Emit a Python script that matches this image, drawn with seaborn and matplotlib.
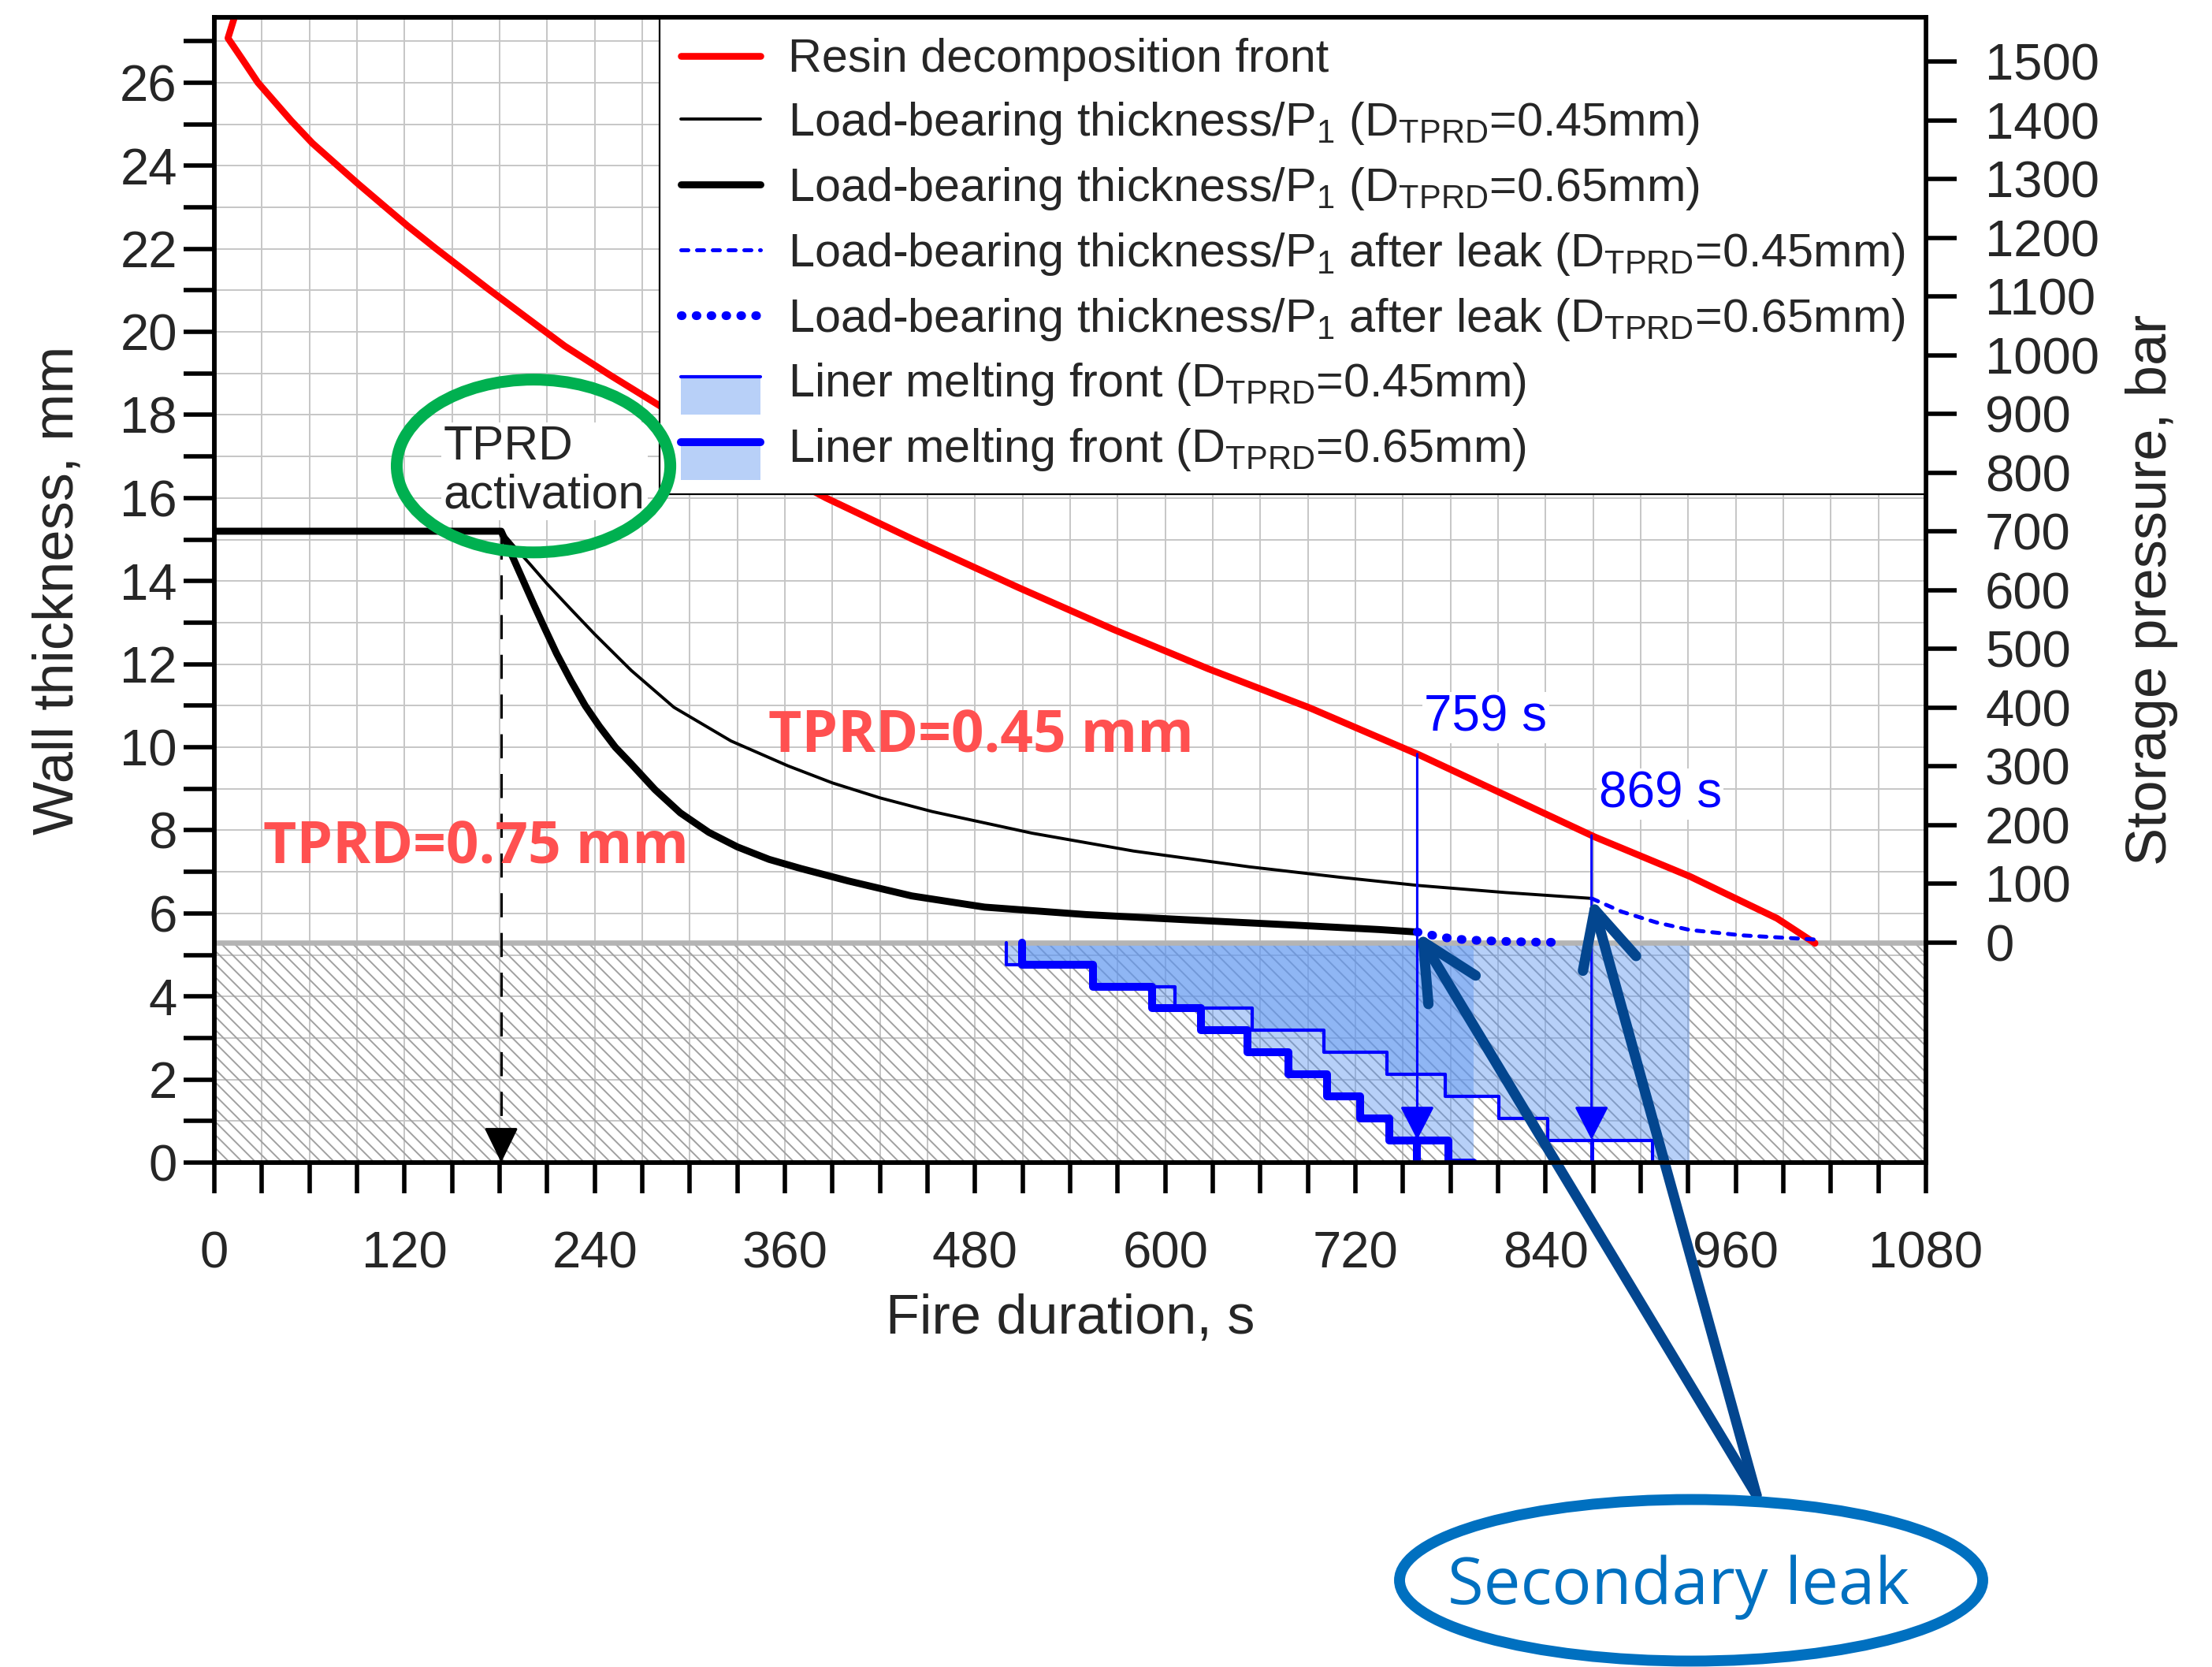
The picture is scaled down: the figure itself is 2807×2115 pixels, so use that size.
import numpy as np
import matplotlib
matplotlib.use("Agg")
import matplotlib.pyplot as plt
import seaborn as sns
from matplotlib.patches import Ellipse, Rectangle
from matplotlib.lines import Line2D
from matplotlib.legend_handler import HandlerBase
from matplotlib.ticker import MultipleLocator

# values (time in s, thickness in mm)
resin_t = [13.3, 8.6, 17.5, 27.5, 48.5, 61.9, 90.8, 121.9, 139.6, 172.9, 195, 221, 250, 284,
           330, 386, 440, 507, 567, 627, 691, 760, 871, 931, 986, 1010]
resin_y = [27.65, 27.07, 26.57, 26.0, 25.08, 24.54, 23.56, 22.55, 22.01, 21.03, 20.4, 19.66, 18.95,
           18.15, 17.15, 16.0, 15.02, 13.85, 12.84, 11.89, 10.95, 9.82, 7.84, 6.89, 5.88, 5.28]

lb045_t = [0, 181, 190, 200, 210, 225, 240, 263, 290, 326, 362, 390, 420, 453, 516, 580, 653,
           710, 760, 815, 869]
lb045_y = [15.2, 15.2, 14.8, 14.37, 13.93, 13.32, 12.72, 11.85, 10.96, 10.15, 9.55, 9.14, 8.78,
           8.45, 7.93, 7.5, 7.12, 6.87, 6.67, 6.5, 6.36]

lb065_t = [0, 181, 188, 195, 202, 208, 216, 225, 234, 243, 253, 263, 278, 294, 312, 330, 350,
           370, 400, 440, 486, 550, 611, 680, 735, 759]
lb065_y = [15.2, 15.2, 14.6, 14.0, 13.4, 12.9, 12.25, 11.6, 11.0, 10.5, 10.0, 9.6, 8.98, 8.42,
           7.95, 7.6, 7.3, 7.08, 6.78, 6.42, 6.15, 5.97, 5.85, 5.72, 5.61, 5.55]

leak045_t = [869, 888, 910, 931, 964, 1010]
leak045_y = [6.36, 6.04, 5.78, 5.6, 5.47, 5.37]

leak065_t = [759, 775, 790, 810, 830, 852]
leak065_y = [5.55, 5.42, 5.36, 5.33, 5.31, 5.3]

# liner melting front, step curves
melt045_t = [499.7, 499.7, 554.6, 606.0, 654.7, 700.3, 740.1, 776.6, 810.5, 841.2, 907.5, 931.0]
melt045_y = [5.3, 4.77, 4.24, 3.71, 3.18, 2.65, 2.12, 1.59, 1.06, 0.53, 0.0, 0.0]
melt065_t = [509.6, 509.6, 554.4, 591.5, 622.6, 651.8, 677.6, 702.0, 723.0, 741.3, 778.6, 794.4]
melt065_y = [5.3, 4.77, 4.24, 3.71, 3.18, 2.65, 2.12, 1.59, 1.06, 0.53, 0.0, 0.0]

liner_top = 5.3          # liner thickness, mm (0 bar on the right axis)
bar_per_mm = 1500 / 21.2
tprd_t = 181
leak_times = [759, 869]
leak_labels = ["759 s", "869 s"]

sns.set_theme(style="white")
plt.rcParams["font.family"] = ["Liberation Sans", "DejaVu Sans"]
plt.rcParams["mathtext.fontset"] = "custom"
plt.rcParams["mathtext.rm"] = "Liberation Sans"
plt.rcParams["mathtext.it"] = "Liberation Sans:italic"
plt.rcParams["mathtext.default"] = "regular"
plt.rcParams["hatch.linewidth"] = 0.7

fill_col = (0.374, 0.59, 0.94)
fill_alpha = 0.447
ytop = 27.577

fig = plt.figure(figsize=(2807 / 200, 2115 / 200), dpi=200)
ax = fig.add_axes([272 / 2807, 1 - 1475 / 2115, (2444 - 272) / 2807, (1475 - 21.7) / 2115])
ax.set_xlim(0, 1080)
ax.set_ylim(0, ytop)

# grid + hatched liner band
ax.set_axisbelow(True)
ax.grid(True, which="both", color="#c6c6c6", lw=0.7)
ax.fill_between([0, 1080], 0, liner_top, facecolor="none", edgecolor="#a0a0a0",
                hatch="\\\\\\\\", linewidth=0, zorder=0.8)
ax.axhline(liner_top, color="#b4b4b4", lw=2.4, zorder=1.5)

# liner melting fronts
ax.fill_between(melt045_t, melt045_y, liner_top, step="post", color=fill_col,
                alpha=fill_alpha, lw=0, zorder=1)
ax.fill_between(melt065_t, melt065_y, liner_top, step="post", color=fill_col,
                alpha=fill_alpha, lw=0, zorder=1)
sns.lineplot(x=melt045_t, y=melt045_y, ax=ax, sort=False, estimator=None, color="blue",
             lw=1.5, drawstyle="steps-post", legend=False, zorder=2.5)
sns.lineplot(x=melt065_t, y=melt065_y, ax=ax, sort=False, estimator=None, color="blue",
             lw=3.6, drawstyle="steps-post", legend=False, zorder=2.5)

# main curves
sns.lineplot(x=resin_t, y=resin_y, ax=ax, sort=False, estimator=None, color="red",
             lw=3.1, legend=False, zorder=3, solid_capstyle="round")
sns.lineplot(x=lb045_t, y=lb045_y, ax=ax, sort=False, estimator=None, color="black",
             lw=1.4, legend=False, zorder=3)
sns.lineplot(x=lb065_t, y=lb065_y, ax=ax, sort=False, estimator=None, color="black",
             lw=3.2, legend=False, zorder=3)
ax.plot(leak045_t, leak045_y, color="blue", lw=1.8, ls=(0, (1.8, 2.2)),
        dash_capstyle="round", zorder=3)
ax.plot(leak065_t, leak065_y, color="blue", lw=4, ls=(0, (0.1, 1.6)),
        dash_capstyle="round", zorder=3)

# TPRD activation marker
ax.plot([tprd_t, tprd_t], [15.1, 0.8], color="black", lw=1.1, ls=(0, (10, 6.5)), zorder=3)
ax.annotate("", xy=(tprd_t, 0), xytext=(tprd_t, 0.8),
            arrowprops=dict(arrowstyle="-|>,head_length=1.4,head_width=0.68", mutation_scale=10,
                            color="black", lw=1.1, shrinkA=0, shrinkB=0), zorder=3)

# secondary leak time markers
tail_t, tail_y = resin_t[2:], resin_y[2:]
for t, lab, seg_lw, dy in zip(leak_times, leak_labels, [3.6, 1.8], [0.88, 1.0]):
    top = np.interp(t, tail_t, tail_y)
    ax.annotate("", xy=(t, 0.55), xytext=(t, top),
                arrowprops=dict(arrowstyle="-|>,head_length=1.33,head_width=0.68",
                                mutation_scale=10, color="blue", lw=1.1, shrinkA=0, shrinkB=0),
                zorder=4)
    ax.plot([t, t], [0, 0.55], color="blue", lw=seg_lw, zorder=4)
    ax.text(t + 4.5, top + dy, lab, color="blue", fontsize=23, ha="left", va="center",
            bbox=dict(facecolor="white", edgecolor="none", pad=1), zorder=4)

# text annotations
ax.text(144.5, 16.64, "TPRD\nactivation", fontsize=21.8, ha="left", va="center",
        linespacing=1.1, bbox=dict(facecolor="white", edgecolor="none", pad=1), zorder=4)
ax.add_patch(Ellipse((201.4, 16.77), 172.6, 4.16, fill=False, edgecolor="#00b050", lw=5.4,
                     zorder=10))
for x0, y0, s in [(349.6, 10.23, "TPRD=0.45 mm"), (30.8, 7.57, "TPRD=0.75 mm")]:
    ax.text(x0, y0, s, color="#ff5050", fontsize=26.3, fontweight="bold", family="Open Sans",
            ha="left", va="center", zorder=4)

# "Secondary leak" callout
tail = (2229 / 2807, 1 - 1897 / 2115)
for tx, ty in [(leak065_t[0], leak065_y[0]), (leak045_t[0], leak045_y[0])]:
    ax.annotate("", xy=(tx, ty), xycoords="data", xytext=tail, textcoords="figure fraction",
                arrowprops=dict(arrowstyle="->,head_length=0.85,head_width=0.42", mutation_scale=30,
                                color="#03468f", lw=4.7, shrinkA=0, shrinkB=0),
                annotation_clip=False, zorder=12)
fig.add_artist(Ellipse((2146 / 2807, 1 - 2005 / 2115), 740 / 2807, 205 / 2115,
                       transform=fig.transFigure, fill=False, edgecolor="#0070c0", lw=5))
fig.text(2130 / 2807, 1 - 2014 / 2115, "Secondary leak", ha="center", va="center",
         color="#0070c0", fontsize=30, family="Open Sans")

# axes styling
ax.xaxis.set_major_locator(MultipleLocator(120))
ax.xaxis.set_minor_locator(MultipleLocator(30))
ax.yaxis.set_major_locator(MultipleLocator(2))
ax.yaxis.set_minor_locator(MultipleLocator(1))
ax.tick_params(which="both", direction="out", length=14, width=2, color="black",
               bottom=True, left=True, labelsize=23.5)
ax.tick_params(axis="x", which="both", pad=17)
ax.tick_params(axis="y", which="both", pad=3)
for s in ax.spines.values():
    s.set_linewidth(2)
    s.set_color("black")
ax.set_xlabel("Fire duration, s", fontsize=25.3, labelpad=7)
ax.set_ylabel("Wall thickness, mm", fontsize=26, labelpad=16)

ax2 = ax.twinx()
ax2.set_ylim(-liner_top * bar_per_mm, (ytop - liner_top) * bar_per_mm)
ax2.set_yticks(np.arange(0, 1501, 100))
ax2.grid(False)
ax2.tick_params(axis="y", direction="out", length=14, width=2, color="black", right=True,
                pad=13, labelsize=23.5)
for s in ax2.spines.values():
    s.set_linewidth(2)
    s.set_color("black")
ax2.set_ylabel("Storage pressure, bar", fontsize=26, labelpad=12)


# legend
class LinerHandler(HandlerBase):
    def __init__(self, lw):
        super().__init__()
        self.lw = lw

    def create_artists(self, legend, orig_handle, xdescent, ydescent, width, height,
                       fontsize, trans):
        yl = height * 0.6 - ydescent
        rect = Rectangle((-xdescent, yl - height * 1.15), width, height * 1.15,
                         facecolor="#b8d0f8", edgecolor="none", transform=trans)
        line = Line2D([-xdescent, -xdescent + width], [yl, yl], color="blue", lw=self.lw,
                      solid_capstyle="round", transform=trans)
        return [rect, line]


p045 = Rectangle((0, 0), 1, 1)
p065 = Rectangle((0, 0), 1, 1)
handles = [
    Line2D([], [], color="red", lw=3.1, solid_capstyle="round"),
    Line2D([], [], color="black", lw=1.4),
    Line2D([], [], color="black", lw=3.2, solid_capstyle="round"),
    Line2D([], [], color="blue", lw=1.8, ls=(0, (1.8, 2.2)), dash_capstyle="round"),
    Line2D([], [], color="blue", lw=4, ls=(0, (0.1, 1.6)), dash_capstyle="round"),
    p045, p065,
]
labels = [
    "Resin decomposition front",
    r"Load-bearing thickness/P$_1$ (D$_{TPRD}$=0.45mm)",
    r"Load-bearing thickness/P$_1$ (D$_{TPRD}$=0.65mm)",
    r"Load-bearing thickness/P$_1$ after leak (D$_{TPRD}$=0.45mm)",
    r"Load-bearing thickness/P$_1$ after leak (D$_{TPRD}$=0.65mm)",
    r"Liner melting front (D$_{TPRD}$=0.45mm)",
    r"Liner melting front (D$_{TPRD}$=0.65mm)",
]
leg = ax.legend(handles, labels, handler_map={p045: LinerHandler(1.5), p065: LinerHandler(3.6)},
                loc="upper right", bbox_to_anchor=(1, 1), borderaxespad=0, fontsize=21.4,
                handlelength=1.7, handletextpad=0.59, borderpad=0.45, labelspacing=0.4,
                frameon=True, fancybox=False, framealpha=1, edgecolor="black")
leg.get_frame().set_linewidth(0.8)
leg.set_zorder(5)

fig.savefig("out.png", dpi=200)
